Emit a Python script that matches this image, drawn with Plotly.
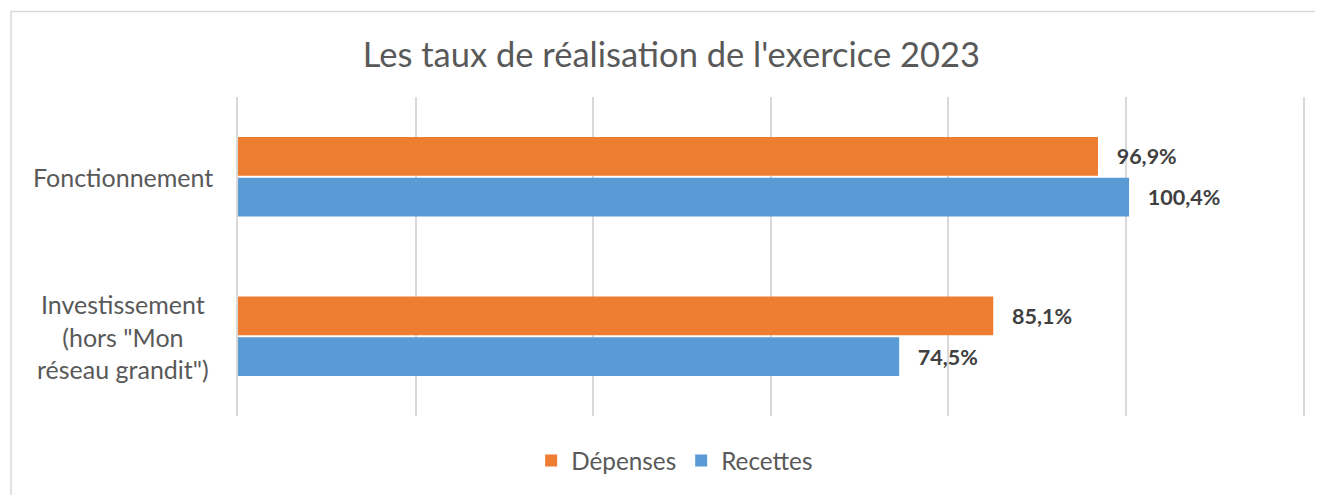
import plotly.graph_objects as go

categories = ["Fonctionnement", "Investissement<br>(hors \"Mon<br>réseau grandit\")"]
series_names = ["Dépenses", "Recettes"]
depenses = [96.9, 85.1]
recettes = [100.4, 74.5]
colors = ["#ED7D31", "#5B9BD5"]
title_text = "Les taux de réalisation de l'exercice 2023"

FONT = "Lato"
GRID = "#D9D9D9"
fig = go.Figure()
for name, vals, col in zip(series_names, [depenses, recettes], colors):
    fig.add_trace(go.Bar(
        y=categories, x=vals, name=name, orientation="h",
        marker=dict(color=col, line=dict(width=0)),
        texttemplate="\u00a0\u00a0\u00a0%{x:.1f}%", textposition="outside",
        textfont=dict(family=FONT, size=21.5, color="#404040", weight="bold"),
        cliponaxis=False,
    ))

for cat in categories:
    fig.add_annotation(x=-0.108, xref="paper", y=cat, yref="y", text=cat,
                       showarrow=False, xanchor="center", yanchor="middle", align="center",
                       font=dict(family=FONT, size=25, color="#595959"))

fig.add_shape(type="rect", xref="paper", yref="paper", x0=-0.2131, x1=1.05, y0=-0.30, y1=1.268,
              line=dict(color=GRID, width=1.5), fillcolor="rgba(0,0,0,0)", layer="below")

fig.update_layout(
    width=1315, height=487,
    margin=dict(l=230, r=20, t=89, b=74),
    paper_bgcolor="white", plot_bgcolor="white",
    separators=", ",
    barmode="group", bargap=0.489, bargroupgap=0.045,
    title=dict(text=title_text, x=0.5045, xanchor="center", y=0.9035, yanchor="middle",
               font=dict(family=FONT, size=34.5, color="#595959")),
    xaxis=dict(range=[0, 120], dtick=20, showticklabels=False, showgrid=True,
               gridcolor=GRID, gridwidth=1.5, zeroline=False, fixedrange=True),
    yaxis=dict(autorange="reversed", showticklabels=False, showgrid=False, zeroline=False,
               showline=True, mirror=True, linecolor=GRID, linewidth=1.5),
    legend=dict(orientation="h", x=0.410, xanchor="center", y=-0.14, yanchor="middle",
                font=dict(family=FONT, size=24.3, color="#595959"), itemclick=False,
                traceorder="normal"),
    showlegend=True,
)
fig.write_html("out.html")
